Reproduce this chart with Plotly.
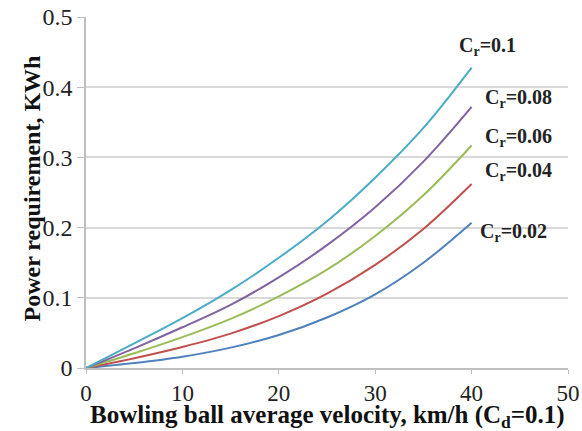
import plotly.graph_objects as go

velocity = [0, 5, 10, 15, 20, 25, 30, 35, 40]
cr_labels = ["0.02", "0.04", "0.06", "0.08", "0.1"]
power_cr002 = [0, 0.007, 0.016, 0.029, 0.047, 0.072, 0.105, 0.150, 0.207]
power_cr004 = [0, 0.014, 0.030, 0.049, 0.074, 0.106, 0.147, 0.198, 0.262]
power_cr006 = [0, 0.021, 0.044, 0.070, 0.102, 0.140, 0.188, 0.246, 0.317]
power_cr008 = [0, 0.028, 0.058, 0.090, 0.129, 0.175, 0.229, 0.294, 0.372]
power_cr010 = [0, 0.035, 0.071, 0.111, 0.157, 0.209, 0.271, 0.342, 0.428]
series = [power_cr002, power_cr004, power_cr006, power_cr008, power_cr010]
colors = ["#4F81BD", "#C0504D", "#9BBB59", "#8064A2", "#4BACC6"]

# label anchor positions in data coordinates
label_x = [40.7, 41.2, 41.2, 41.2, 41.7]
label_y = [0.193, 0.280, 0.328, 0.384, 0.458]
label_anchor = ["left", "left", "left", "left", "center"]

x_ticks = [0, 10, 20, 30, 40, 50]
y_ticks = [0, 0.1, 0.2, 0.3, 0.4, 0.5]
y_ticktext = ["0", "0.1", "0.2", "0.3", "0.4", "0.5"]
x_title = "<b>Bowling ball average velocity, km/h (C<sub>d</sub>=0.1)</b>"
y_title = "<b>Power requirement, KWh</b>"

fig = go.Figure()
for vals, col in zip(series, colors):
    fig.add_trace(go.Scatter(x=velocity, y=vals, mode="lines",
                             line=dict(color=col, width=2, shape="spline", smoothing=1.0),
                             showlegend=False, hoverinfo="skip"))

for lab, lx, ly, anc in zip(cr_labels, label_x, label_y, label_anchor):
    fig.add_annotation(x=lx, y=ly, xref="x", yref="y", text="C<sub>r</sub>=" + lab,
                       showarrow=False, xanchor=anc, yanchor="middle",
                       font=dict(family="Liberation Serif", size=20, color="#222222", weight="bold"))

serif = "Liberation Serif"
# axis titles as annotations
fig.add_annotation(x=0.5, y=0, xref="paper", yref="paper", text=x_title, showarrow=False,
                   xanchor="center", yanchor="middle", yshift=-48,
                   font=dict(family=serif, size=25, color="#111111"))
fig.add_annotation(x=0, y=0.5, xref="paper", yref="paper", text=y_title, showarrow=False,
                   textangle=-90, xanchor="center", yanchor="middle", xshift=-55, yshift=4,
                   font=dict(family=serif, size=24, color="#111111"))

fig.update_layout(
    width=582, height=431,
    margin=dict(l=86, r=14, t=17, b=63, autoexpand=False),
    paper_bgcolor="white", plot_bgcolor="white",
    font=dict(family=serif, color="#222222"),
    xaxis=dict(range=[0, 50], tickvals=x_ticks, showgrid=False, zeroline=False,
               automargin=False,
               showline=True, linecolor="#bfbfbf", linewidth=1.5,
               ticks="outside", ticklen=4, tickcolor="#bfbfbf",
               tickfont=dict(family=serif, size=23, color="#222222")),
    yaxis=dict(range=[0, 0.5], tickvals=y_ticks, ticktext=y_ticktext,
               showgrid=True, gridcolor="#d9d9d9", gridwidth=1.5, zeroline=False,
               automargin=False,
               showline=True, linecolor="#bfbfbf", linewidth=1.5,
               ticks="outside", ticklen=7, tickcolor="#bfbfbf",
               tickfont=dict(family=serif, size=24, color="#222222")),
)
fig.write_html("out.html")
